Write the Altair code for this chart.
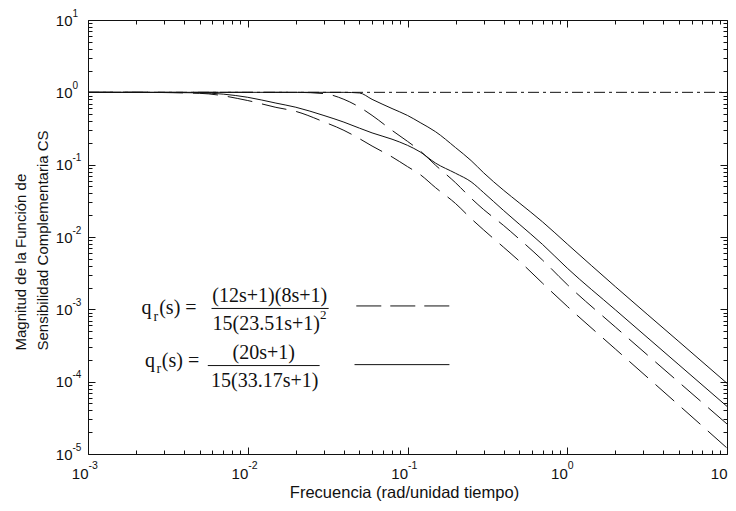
import altair as alt
import pandas as pd

# ---------------- values ----------------
freq = [0.001, 0.002, 0.005, 0.01, 0.015, 0.02, 0.03, 0.04, 0.05, 0.06, 0.08,
        0.1, 0.12, 0.15, 0.2, 0.25, 0.3, 0.4, 0.5, 0.7, 1, 2, 5, 10]
solid_upper = [1, 1, 1, 1, 1, 1, 1, 1, 0.98, 0.80, 0.597, 0.479, 0.382, 0.285,
               0.172, 0.114, 0.077, 0.0442, 0.0297, 0.0162, 0.0080, 0.00206,
               3.58e-4, 9.5e-5]
solid_lower = [1, 1, 0.984, 0.854, 0.71, 0.622, 0.478, 0.387, 0.32, 0.275,
               0.225, 0.185, 0.150, 0.105, 0.076, 0.058, 0.041, 0.0232, 0.0151,
               0.0079, 0.00371, 9.85e-4, 1.71e-4, 4.55e-5]
dash_upper = [1, 1, 1, 1, 1, 1, 0.96, 0.80, 0.625, 0.48, 0.298, 0.21, 0.155,
              0.098, 0.0562, 0.0344, 0.0239, 0.0144, 0.0094, 0.0048, 0.0022,
              5.7e-4, 9.8e-5, 2.6e-5]
dash_lower = [1, 1, 0.969, 0.77, 0.62, 0.545, 0.39, 0.298, 0.229, 0.181, 0.128,
              0.094, 0.073, 0.048, 0.029, 0.018, 0.0125, 0.0072, 0.00467,
              0.0023, 0.0011, 2.83e-4, 4.72e-5, 1.21e-5]
unity_freq = [0.001, 10]
unity_mag = [1, 1]

# legend (formula) annotations, in data coordinates
q_f = [0.002166, 0.00227]
q_m = [8.65e-4, 1.59e-4]
r_f = [0.002566, 0.00268]
r_m = [6.93e-4, 1.30e-4]
s_f = [0.00279, 0.0029]
s_m = [8.65e-4, 1.59e-4]
num_text = ["(12s+1)(8s+1)", "(20s+1)"]
num_f = [0.01373, 0.01259]
num_m = [1.26e-3, 2.08e-4]
den_text = ["15(23.51s+1)", "15(33.17s+1)"]
den_f = [0.01305, 0.01276]
den_m = [5.13e-4, 8.32e-5]
sq_text = ["2"]
sq_f = [0.02838]
sq_m = [7.38e-4]
bar_f1 = [0.005932, 0.005623]
bar_f2 = [0.03209, 0.02818]
bar_m = [1.028e-3, 1.67e-4]
sample_dash_f1, sample_dash_f2, sample_dash_m = [0.0478], [0.183], [1.114e-3]
sample_solid_f1, sample_solid_f2, sample_solid_m = [0.0466], [0.183], [1.72e-4]

# ---------------- styling ----------------
INK = "#111111"
FONT = "Liberation Sans"
SERIF = "Liberation Serif"
X_DOM = [1e-3, 10]
Y_DOM = [1e-5, 10]
xs = alt.Scale(type="log", domain=X_DOM, nice=False)
ys = alt.Scale(type="log", domain=Y_DOM, nice=False)

x_major = [10.0 ** e for e in range(-3, 2)]
y_major = [10.0 ** e for e in range(-5, 2)]
x_minor = [k * 10.0 ** e for e in range(-3, 1) for k in range(2, 10)]
y_minor = [k * 10.0 ** e for e in range(-5, 1) for k in range(2, 10)]

EXP = "round(log(datum.value)/LN10)"


def tick_axis(orient, values, size):
    return alt.Axis(orient=orient, values=values, labels=False, domain=False,
                    grid=False, ticks=True, tickSize=size, offset=-size,
                    tickColor=INK, tickWidth=1, title=None)


# base "10" of the x labels, with the x title
x_base_axis = alt.Axis(
    orient="bottom", values=x_major, labelExpr="'10'",
    ticks=False, tickSize=0, domain=False, grid=False,
    labelFont=FONT, labelFontSize=15, labelColor=INK, labelPadding=12,
    labelAlign="right", labelFlush=False, labelOverlap=False,
    title="Frecuencia (rad/unidad tiempo)", titleFont=FONT, titleFontSize=16.5,
    titleFontWeight="normal", titleColor=INK, titleX=316, titleY=38,
    titleAlign="center", titleBaseline="middle")

# base "10" of the y labels, with the y title
y_base_axis = alt.Axis(
    orient="left", values=y_major, labelExpr="'10'",
    ticks=False, tickSize=0, domain=False, grid=False,
    labelFont=FONT, labelFontSize=15, labelColor=INK, labelPadding=16,
    labelAlign="right", labelBaseline="middle",
    labelOverlap=False, labelFlush=False,
    title=["Magnitud de la Función de", "Sensibilidad Complementaria CS"],
    titleFont=FONT, titleFontSize=15, titleFontWeight="normal",
    titleColor=INK, titleAngle=270, titleAlign="left",
    titleBaseline="middle", titleX=-68, titleY=330, titleLineHeight=22)

# exponents (superscripts)
x_exp_axis = alt.Axis(
    orient="bottom", values=x_major, labelExpr=f"'' + {EXP}",
    ticks=False, tickSize=0, domain=False, grid=False,
    labelFont=FONT, labelFontSize=10.5, labelColor=INK, labelPadding=6,
    labelAlign="left", labelFlush=False, labelOverlap=False, title=None)

y_exp_axis = alt.Axis(
    orient="left", values=y_major, labelExpr=f"'' + {EXP}",
    ticks=False, tickSize=0, domain=False, grid=False,
    labelFont=FONT, labelFontSize=10, labelColor=INK, labelPadding=16,
    labelAlign="left", labelBaseline="middle", labelOffset=-7,
    labelFlush=False, labelOverlap=False, title=None)

# ---------------- data frames ----------------
dash_df = pd.concat([
    pd.DataFrame({"f": freq, "m": dash_upper, "curve": "dash_upper"}),
    pd.DataFrame({"f": freq, "m": dash_lower, "curve": "dash_lower"}),
])
solid_df = pd.concat([
    pd.DataFrame({"f": freq, "m": solid_upper, "curve": "solid_upper"}),
    pd.DataFrame({"f": freq, "m": solid_lower, "curve": "solid_lower"}),
])
unity_df = pd.DataFrame({"f": unity_freq, "m": unity_mag})

dashed = alt.Chart(dash_df).mark_line(
    color=INK, strokeWidth=1, strokeDash=[25, 10], interpolate="monotone"
).encode(
    x=alt.X("f:Q", scale=xs, axis=x_base_axis),
    y=alt.Y("m:Q", scale=ys, axis=y_base_axis),
    detail="curve:N",
)

solid = alt.Chart(solid_df).mark_line(
    color=INK, strokeWidth=1, interpolate="monotone"
).encode(
    x=alt.X("f:Q", scale=xs, axis=tick_axis("bottom", x_major, 7)),
    y=alt.Y("m:Q", scale=ys, axis=tick_axis("left", y_major, 7)),
    detail="curve:N",
)

dashdot = alt.Chart(unity_df).mark_line(
    color=INK, strokeWidth=1, strokeDash=[11, 4, 3, 4]
).encode(
    x=alt.X("f:Q", scale=xs, axis=tick_axis("bottom", x_minor, 4)),
    y=alt.Y("m:Q", scale=ys, axis=tick_axis("left", y_minor, 4)),
)

sample_dash = alt.Chart(pd.DataFrame({
    "f1": sample_dash_f1, "f2": sample_dash_f2, "m": sample_dash_m})
).mark_rule(color=INK, strokeWidth=1, strokeDash=[25, 9]).encode(
    x=alt.X("f1:Q", scale=xs, axis=tick_axis("top", x_major, 7)),
    x2="f2:Q",
    y=alt.Y("m:Q", scale=ys, axis=tick_axis("right", y_major, 7)),
)

sample_solid = alt.Chart(pd.DataFrame({
    "f1": sample_solid_f1, "f2": sample_solid_f2, "m": sample_solid_m})
).mark_rule(color=INK, strokeWidth=1).encode(
    x=alt.X("f1:Q", scale=xs, axis=tick_axis("top", x_minor, 4)),
    x2="f2:Q",
    y=alt.Y("m:Q", scale=ys, axis=tick_axis("right", y_minor, 4)),
)

bars = alt.Chart(pd.DataFrame({"f1": bar_f1, "f2": bar_f2, "m": bar_m})).mark_rule(
    color=INK, strokeWidth=1
).encode(
    x=alt.X("f1:Q", scale=xs, axis=x_exp_axis), x2="f2:Q",
    y=alt.Y("m:Q", scale=ys, axis=y_exp_axis),
)


def text_layer(f, m, t, size, align):
    return alt.Chart(pd.DataFrame({"f": f, "m": m, "t": t})).mark_text(
        font=SERIF, fontSize=size, color=INK, align=align, baseline="alphabetic"
    ).encode(
        x=alt.X("f:Q", scale=xs, axis=None),
        y=alt.Y("m:Q", scale=ys, axis=None),
        text="t:N",
    )


t_q = text_layer(q_f, q_m, ["q", "q"], 20, "left")
t_r = text_layer(r_f, r_m, ["r", "r"], 14, "left")
t_s = text_layer(s_f, s_m, ["(s) =", "(s) ="], 20, "left")
t_num = text_layer(num_f, num_m, num_text, 20, "center")
t_den = text_layer(den_f, den_m, den_text, 20, "center")
t_sq = text_layer(sq_f, sq_m, sq_text, 13, "left")

chart = alt.layer(
    dashed, solid, dashdot, sample_dash, sample_solid, bars,
    t_q, t_r, t_s, t_num, t_den, t_sq,
).resolve_axis(
    x="independent", y="independent"
).properties(
    width=639, height=434,
    autosize=alt.AutoSizeParams(type="none"),
    padding={"left": 80, "top": 12, "right": 1, "bottom": 47},
    background="white",
).configure_view(stroke=INK, strokeWidth=1)

chart.save("out.html", embed_options={"renderer": "svg", "actions": False})
